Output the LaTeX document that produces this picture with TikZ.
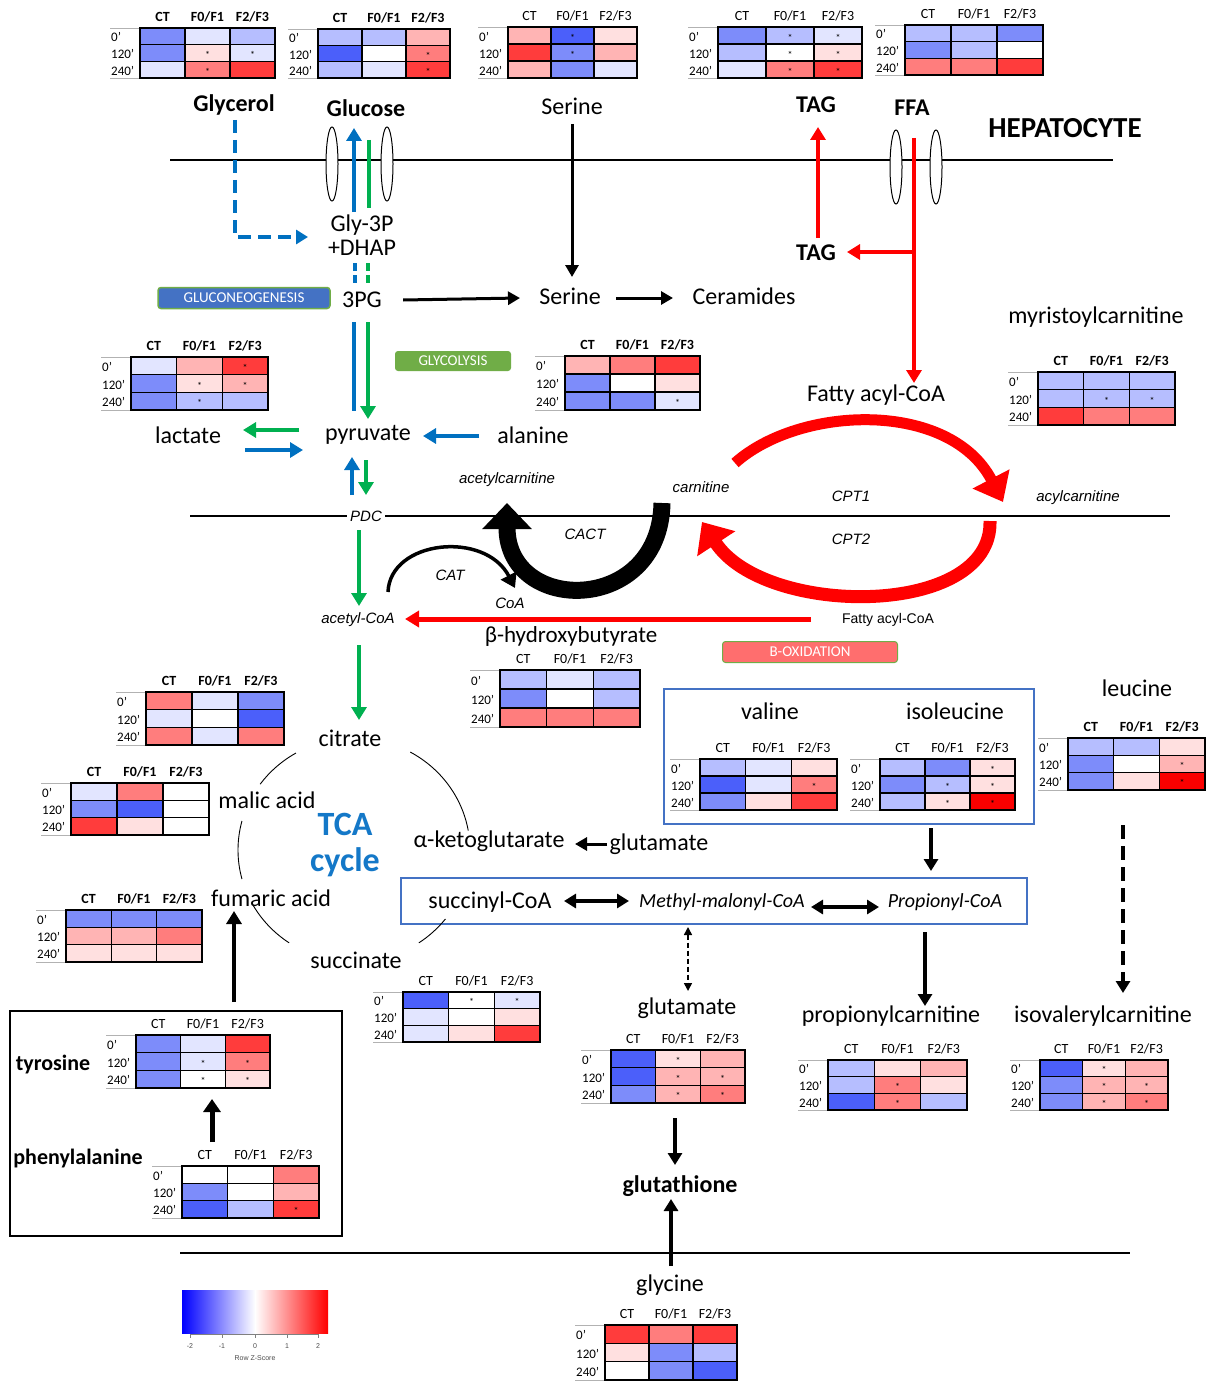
\documentclass[tikz,border=0pt]{standalone}
\usepackage{fontspec}
\setmainfont{Carlito}
\newfontfamily\arialf{Liberation Sans}
\usetikzlibrary{arrows.meta}
\newcommand\fs[1]{\fontsize{#1}{#1}\selectfont}
\definecolor{B4}{RGB}{40,60,255}
\definecolor{B3}{RGB}{75,95,250}
\definecolor{B2}{RGB}{125,140,250}
\definecolor{B1}{RGB}{182,190,255}
\definecolor{B0}{RGB}{226,229,255}
\definecolor{W}{RGB}{255,255,255}
\definecolor{R0}{RGB}{255,224,224}
\definecolor{R1}{RGB}{255,180,180}
\definecolor{R2}{RGB}{255,125,125}
\definecolor{R3}{RGB}{255,60,60}
\definecolor{R4}{RGB}{250,0,0}
\definecolor{cblue}{RGB}{0,112,192}
\definecolor{cgreen}{RGB}{0,176,80}
\definecolor{gboxc}{RGB}{112,173,71}
\definecolor{bboxc}{RGB}{68,114,196}
\definecolor{rboxc}{RGB}{255,110,110}
\definecolor{tcab}{RGB}{20,120,200}
\tikzset{
  lbl/.style={font=\fs{24}, inner sep=1pt},
  lblb/.style={font=\bfseries\fs{24}, inner sep=1pt},
  itl/.style={font=\arialf\itshape\fs{15}, inner sep=1pt},
  hb/.style={font=\bfseries\fs{14}, inner sep=0pt},
  hr/.style={font=\fs{14}, inner sep=0pt},
  barrow/.style={line width=3pt, -{Triangle[length=12pt,width=13pt]}},
  carrow/.style={line width=4.5pt, -{Triangle[length=13pt,width=15pt]}},
  tagbox/.style={rounded corners=3pt, minimum height=21pt, text=white, font=\fs{15}, inner sep=1pt},
}
% heatmap: name, x0, y0, x1, y1, header style, cells
\newcommand\hmap[7]{%
  \pgfmathsetmacro\hmX{#2}\pgfmathsetmacro\hmY{#3}%
  \pgfmathsetmacro\hmW{(#4-#2)/3}\pgfmathsetmacro\hmH{(#5-#3)/3}%
  \draw[gray!60,line width=0.8pt] ({\hmX-30},\hmY) -- (\hmX,\hmY) ({\hmX-30},#5) -- (\hmX,#5);
  \foreach \c/\s [count=\i from 0] in {#7}{%
    \pgfmathtruncatemacro\hmr{\i/3}%
    \pgfmathtruncatemacro\hmk{\i-3*\hmr}%
    \fill[\c] ({\hmX+\hmk*\hmW},{\hmY+\hmr*\hmH}) rectangle ++(\hmW,\hmH);
    \ifnum\s=1 \node[font=\fs{10},inner sep=0pt] at ({\hmX+(\hmk+0.5)*\hmW},{\hmY+(\hmr+0.5)*\hmH+2}) {*};\fi
  }
  \draw[line width=1.1pt] ({\hmX+\hmW},\hmY) -- ({\hmX+\hmW},#5) ({\hmX+2*\hmW},\hmY) -- ({\hmX+2*\hmW},#5)
     (\hmX,{\hmY+\hmH}) -- (#4,{\hmY+\hmH}) (\hmX,{\hmY+2*\hmH}) -- (#4,{\hmY+2*\hmH});
  \draw[line width=1.4pt] (\hmX,\hmY) rectangle (#4,#5);
  \node[#6] (#1-ct) at ({\hmX+0.5*\hmW},{\hmY-11}) {CT};
  \node[#6] (#1-f1) at ({\hmX+1.5*\hmW},{\hmY-11}) {F0/F1};
  \node[#6] (#1-f2) at ({\hmX+2.5*\hmW},{\hmY-11}) {F2/F3};
  \node[font=\fs{13},anchor=west,inner sep=0pt] (#1-r0) at ({\hmX-29},{\hmY+0.5*\hmH+1}) {0’};
  \node[font=\fs{13},anchor=west,inner sep=0pt] (#1-r1) at ({\hmX-29},{\hmY+1.5*\hmH+1}) {120’};
  \node[font=\fs{13},anchor=west,inner sep=0pt] (#1-r2) at ({\hmX-29},{\hmY+2.5*\hmH+1}) {240’};
}
\begin{document}
\begin{tikzpicture}[x=1pt,y=-1pt]
\useasboundingbox (0,0) rectangle (1212,1383);
\fill[white] (0,0) rectangle (1212,1383);

% membranes
\draw[line width=1.5pt] (170,160) -- (1113,160);
\foreach \x in {332,387} \draw[fill=white,line width=1pt] (\x,164) ellipse (6 and 37);
\foreach \x in {896,936} \draw[fill=white,line width=1pt] (\x,167) ellipse (6 and 37);
\draw[line width=1.5pt] (190,516) -- (1170,516);
\draw[line width=2pt] (180,1253) -- (1130,1253);

% heatmaps
\hmap{hGly}{140}{28}{275}{78}{hb}{B2/0,B0/0,B1/0,B2/0,R0/1,B0/1,B0/0,R2/1,R3/0}
\hmap{hGlu}{318}{29}{450}{78}{hb}{B1/0,B1/0,R1/0,B3/0,W/0,R2/1,B1/0,B0/0,R3/1}
\hmap{hSer}{508}{27}{637}{78}{hr}{R1/0,B3/1,R0/0,R3/0,B2/1,R1/0,R1/0,B2/0,B0/0}
\hmap{hTag}{718}{27}{862}{78}{hr}{B2/0,B1/1,B0/1,B1/0,W/1,R0/1,B0/0,R2/1,R3/1}
\hmap{hFfa}{905}{25}{1043}{75}{hr}{B1/0,B1/0,B2/0,B2/0,B1/0,W/0,R2/0,R2/0,R3/0}
\hmap{hLac}{131}{357}{268}{410}{hb}{B0/0,R1/0,R3/1,B2/0,R0/1,R1/1,B2/0,B1/1,B1/0}
\hmap{hAla}{565}{356}{700}{410}{hb}{R1/0,R2/0,R3/0,B2/0,W/0,R0/0,B2/0,B2/0,B0/1}
\hmap{hMyr}{1038}{372}{1175}{425}{hb}{B1/0,B1/0,B1/0,B1/0,B1/1,B1/1,R3/0,R2/0,R2/0}
\hmap{hBhb}{500}{670}{640}{727}{hr}{B1/0,B0/0,B1/0,B2/0,W/0,B1/0,R2/0,R2/0,R2/0}
\hmap{hCit}{146}{692}{284}{745}{hb}{R2/0,B0/0,B2/0,B0/0,W/0,B3/0,R2/0,B0/0,R2/0}
\hmap{hMal}{71}{783}{209}{835}{hb}{B0/0,R2/0,W/0,B2/0,B3/0,W/0,R3/0,R0/0,W/0}
\hmap{hFum}{66}{910}{202}{962}{hb}{B2/0,B2/0,B2/0,R1/0,R1/0,R2/0,R0/0,R0/0,R0/0}
\hmap{hSuc}{403}{992}{540}{1042}{hr}{B3/0,W/1,B0/1,B0/0,W/0,R0/0,B0/0,R0/0,R3/0}
\hmap{hVal}{700}{759}{837}{810}{hr}{B1/0,B0/0,R0/0,B3/0,B0/0,R2/1,B2/0,R0/0,R3/0}
\hmap{hIle}{880}{759}{1015}{810}{hr}{B1/0,B2/0,R0/1,B2/0,B1/1,R0/1,B1/0,R0/1,R4/1}
\hmap{hLeu}{1068}{738}{1205}{790}{hb}{B1/0,B1/0,R0/0,B2/0,W/0,R1/1,B2/0,R0/0,R4/1}
\hmap{hGlt}{611}{1050}{745}{1103}{hr}{B3/0,R0/1,R1/0,B3/0,R1/1,R1/1,B2/0,R1/1,R2/1}
\hmap{hPrc}{828}{1060}{967}{1110}{hr}{B1/0,R0/0,R1/0,B1/0,R2/1,R0/0,B3/0,R2/1,B1/0}
\hmap{hIvc}{1040}{1060}{1168}{1110}{hr}{B3/0,R0/1,R1/0,B2/0,R1/1,R1/1,B2/0,R1/1,R2/1}
\hmap{hTyr}{136}{1035}{270}{1088}{hr}{B2/0,B0/0,R3/0,B2/0,B0/1,R2/1,B2/0,W/1,R0/1}
\hmap{hPhe}{182}{1166}{319}{1218}{hr}{W/0,W/0,R2/0,B2/0,W/0,R1/0,B3/0,B1/0,R3/1}
\hmap{hGlyc}{605}{1325}{737}{1380}{hr}{R3/0,R2/0,R3/0,R0/0,B2/0,B1/0,W/0,B2/0,B3/0}

% text nodes
\node[lblb] (glycerol) at (234,105) {Glycerol};
\node[lblb] (glucose) at (366,108) {Glucose};
\node[lbl] (serT) at (572,106) {Serine};
\node[lblb] (tagT) at (816,105) {TAG};
\node[lblb] (ffa) at (912,108) {FFA};
\node[font=\bfseries\fs{29}] (hep) at (1065,128) {HEPATOCYTE};
\node[lbl] (gly3p) at (362,225) {Gly-3P};
\node[lbl] (dhap) at (362,248) {+DHAP};
\node[lbl] (pg3) at (362,300) {3PG};
\node[tagbox, fill=bboxc, draw=gboxc, line width=1.5pt, minimum width=172pt] (gng) at (244,298) {GLUCONEOGENESIS};
\node[lbl] (serM) at (570,296) {Serine};
\node[lbl] (cer) at (744,296) {Ceramides};
\node[lblb] (tagM) at (816,253) {TAG};
\node[lbl] (myr) at (1096,317) {myristoylcarnitine};
\node[tagbox, fill=gboxc, minimum width=116pt, minimum height=20pt] (glyc) at (453,361) {GLYCOLYSIS};
\node[lbl] (fac) at (876,395) {Fatty acyl-CoA};
\node[lbl] (lac) at (188,435) {lactate};
\node[lbl] (pyr) at (368,435) {pyruvate};
\node[lbl] (ala) at (533,435) {alanine};
\node[itl] (acc) at (507,480) {acetylcarnitine};
\node[itl] (carn) at (701,487) {carnitine};
\node[itl] (cpt1) at (851,496) {CPT1};
\node[itl] (acyl) at (1078,498) {acylcarnitine};
\node[itl, fill=white, inner sep=3pt] (pdc) at (366,516) {PDC};
\node[itl] (cact) at (585,534) {CACT};
\node[itl] (cpt2) at (851,539) {CPT2};
\node[itl] (cat) at (450,575) {CAT};
\node[itl] (coa) at (510,603) {CoA};
\node[itl] (acoa) at (358,620) {acetyl-CoA};
\node[font=\arialf\fs{14}, inner sep=1pt] (fac2) at (888,620) {Fatty acyl-CoA};
\node[font=\fs{23}, inner sep=1pt] (bhb) at (571,636) {β-hydroxybutyrate};
\node[tagbox, fill=rboxc, draw=gboxc, line width=1pt, minimum width=175pt] (box) at (810,652) {B-OXIDATION};
\node[lbl] (leu) at (1137,688) {leucine};
\node[lbl] (val) at (770,711) {valine};
\node[lbl] (ile) at (955,711) {isoleucine};
\node[lbl] (cit) at (350,738) {citrate};
\node[lbl] (mal) at (267,800) {malic acid};
\node[font=\bfseries\fs{34}, text=tcab, inner sep=0pt] (tca) at (345,824) {TCA};
\node[font=\bfseries\fs{34}, text=tcab, inner sep=0pt] (cyc) at (345,862) {cycle};
\node[lbl] (akg) at (489,841) {α-ketoglutarate};
\node[lbl] (gluU) at (659,844) {glutamate};
\node[lbl] (fum) at (271,898) {fumaric acid};
\node[lbl] (suc) at (490,902) {succinyl-CoA};
\node[font=\itshape\fs{20}, inner sep=1pt] (mmc) at (722,902) {Methyl-malonyl-CoA};
\node[font=\itshape\fs{20}, inner sep=1pt] (pro) at (945,902) {Propionyl-CoA};
\node[lbl] (sct) at (356,960) {succinate};
\node[lbl] (gluL) at (687,1008) {glutamate};
\node[lbl] (prc) at (891,1016) {propionylcarnitine};
\node[lbl] (ivc) at (1103,1016) {isovalerylcarnitine};
\node[font=\bfseries\fs{22}, inner sep=1pt] (tyr) at (53,1064) {tyrosine};
\node[font=\bfseries\fs{22}, inner sep=1pt] (phe) at (78,1158) {phenylalanine};
\node[lblb] (gsh) at (680,1186) {glutathione};
\node[lbl] (glyn) at (670,1285) {glycine};

% boxes
\draw[bboxc, line width=1.2pt] (664,689) rectangle (1034,824);
\draw[bboxc, line width=1.2pt] (401,878) rectangle (1027,924);
\draw[line width=1.2pt] (10,1011) rectangle (342,1236);

% TCA arcs
\begin{scope}[line width=0.9pt]
\draw (354,850) ++(216:116 and 112) arc[start angle=216, end angle=240, x radius=116, y radius=112];
\draw (354,850) ++(-61:116 and 112) arc[start angle=-61, end angle=-10, x radius=116, y radius=112];
\draw (354,850) ++(165:116 and 112) arc[start angle=165, end angle=195, x radius=116, y radius=112];
\draw (354,850) ++(124:116 and 112) arc[start angle=124, end angle=150, x radius=116, y radius=112];
\draw (354,850) ++(38:116 and 112) arc[start angle=38, end angle=56, x radius=116, y radius=112];
\end{scope}

% coordinates for connector ends
\coordinate (glyE) at (308,237);
\coordinate (gA) at (235,120);

% Glycerol -> Gly-3P (dashed blue)
\draw[cblue, line width=3.5pt, dash pattern=on 13pt off 7pt, -{Triangle[length=12pt,width=14pt]}] (gA) |- (glyE);
% glucose
\draw[cblue, carrow] (354,212) -- (354,128);
\draw[cgreen, line width=4.5pt] (369,140) -- (369,208);
\draw[cblue, line width=4.5pt, dash pattern=on 8pt off 4pt] (355,263) -- (355,285);
\draw[cgreen, line width=4.5pt, dash pattern=on 8pt off 4pt] (368,263) -- (368,285);
% 3PG -> pyruvate
\draw[cblue, line width=4.5pt] (354,322) -- (354,411);
\draw[cgreen, carrow] (368,322) -- (368,419);
% serine
\draw[barrow] (serT.south |- 0,124) -- (serT.south |- 0,277);
\draw[barrow] (pg3.east) ++(20,0) -- (520,298);
\draw[barrow] (616,298) -- (673,298);
% TAG, FFA
\draw[red, carrow] (818,238) -- (818,127);
\draw[red, carrow] (914,138) -- (914,383);
\draw[red, carrow] (914,252) -- (847,252);
% lactate / pyruvate / alanine
\draw[cgreen, carrow] (299,430) -- (243,430);
\draw[cblue, carrow] (245,450) -- (303,450);
\draw[cblue, carrow] (479,436) -- (423,436);
\draw[cblue, carrow] (352,495) -- (352,457);
\draw[cgreen, carrow] (366,460) -- (366,495);
% PDC -> acetyl-CoA -> citrate
\draw[cgreen, carrow] (359,530) -- (359,606);
\draw[cgreen, carrow] (359,645) -- (359,720);
% fatty acyl-CoA -> acetyl-CoA
\draw[red, line width=5pt, -{Triangle[length=14pt,width=16pt]}] (811,619) -- (405,619);
% CACT black U
\draw[line width=17pt, -{Triangle[length=26pt,width=48pt]}] (662,503) .. controls (660,615) and (507,615) .. (507,503);
% CAT
\draw[line width=3.5pt, -{Triangle[length=14pt,width=17pt]}] (388,592) .. controls (390,540) and (485,530) .. (515,588);
% CPT1
\draw[red, line width=11pt, -{Triangle[length=26pt,width=40pt]}] (735,463) .. controls (800,405) and (950,400) .. (1003,502);
% CPT2
\draw[red, line width=13pt, -{Triangle[length=26pt,width=44pt]}] (990,521) .. controls (993,618) and (765,618) .. (702,522);
% glutamate -> aKG
\draw[barrow] (607,844) -- (575,844);
% double arrows
\draw[line width=4pt, {Triangle[length=12pt,width=14pt]}-{Triangle[length=12pt,width=14pt]}] (564,901) -- (629,901);
\draw[line width=4pt, {Triangle[length=12pt,width=14pt]}-{Triangle[length=12pt,width=14pt]}] (811,907) -- (879,907);
% BCAA
\draw[line width=4pt, -{Triangle[length=12pt,width=14pt]}] (931,828) -- (931,871);
\draw[line width=4pt, -{Triangle[length=12pt,width=14pt]}] (925,932) -- (925,1006);
\draw[line width=4pt, dash pattern=on 14pt off 7pt, -{Triangle[length=12pt,width=14pt]}] (1123,825) -- (1123,993);
\draw[line width=1.6pt, dash pattern=on 5pt off 3pt, {Triangle[length=8pt,width=8pt]}-{Triangle[length=8pt,width=8pt]}] (688,927) -- (688,991);
% glutathione
\draw[line width=4pt, -{Triangle[length=12pt,width=14pt]}] (675,1118) -- (675,1165);
\draw[line width=4pt, -{Triangle[length=12pt,width=14pt]}] (671,1266) -- (671,1199);
% tyrosine
\draw[line width=5pt, -{Triangle[length=13pt,width=17pt]}] (212,1142) -- (212,1099);
\draw[line width=4pt, -{Triangle[length=13pt,width=15pt]}] (234,1002) -- (234,911);

% legend
\shade[left color=blue, right color=white] (182,1290) rectangle (255,1333);
\shade[left color=white, right color=red] (255,1290) rectangle (328,1333);
\draw[gray, line width=0.6pt] (190,1334) -- (318,1334);
\foreach \x/\t in {190/-2,222/-1,255/0,287/1,318/2}{
  \draw[gray, line width=0.6pt] (\x,1334) -- (\x,1338);
  \node[font=\arialf\fs{7}, text=black!70, inner sep=0pt] at (\x,1346) {\t};
}
\node[font=\arialf\fs{7}, text=black!70, inner sep=0pt] (zs) at (255,1358) {Row Z-Score};
\end{tikzpicture}
\end{document}
